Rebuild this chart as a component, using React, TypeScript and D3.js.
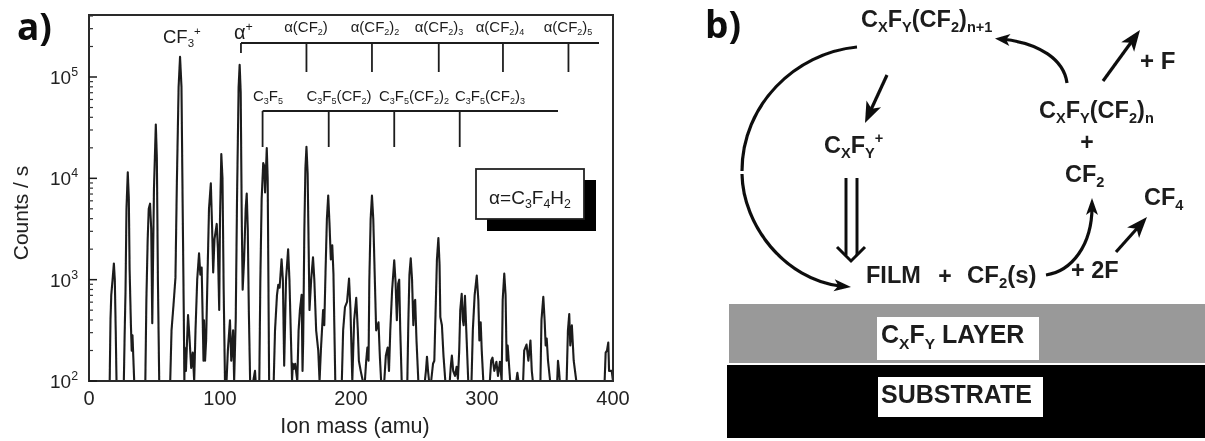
import React from "react";
import * as d3 from "d3";

// mass (amu), log10(counts/s)
const spectrum: [number, number][] = [
  [0,2],[15.8,2],[16.4,2.6],[17,2.85],[18,3],[19,3.16],[19.7,3],[20.4,2.5],[21,2],
  [26.6,2],[27.2,2.45],[27.9,2.9],[28.6,3.7],[29.6,4.06],[30.4,3.8],[31,3.1],[32,2.55],[32.6,2.3],[33.2,2.45],[34.5,2],
  [43,2],[43.8,2.8],[44.8,3.4],[45.6,3.7],[46.6,3.75],[47.5,3.5],[48.3,2.57],[48.8,3.1],[49.6,3.9],[51,4.53],[51.8,4.2],[52.6,3],[53.6,2],
  [62,2],[63,2.5],[64.5,2.75],[66,3.02],[67,3.9],[68.4,4.9],[69.5,5.2],[70.6,4.9],[71.6,3.6],[72.4,2.6],[72.8,2],
  [73,2.33],[74,2.1],[75.6,2.65],[76.6,2.45],[78,2.13],[79.2,2.28],[80.3,2],
  [81.3,2.5],[82.6,3],[84,3.26],[85,3.05],[86,3.12],[86.8,2.6],[87.4,2.2],[87.8,2.6],[88.6,2.2],[89.4,2.4],
  [90.4,3],[91.6,3.7],[93,3.95],[94,3.5],[94.8,3.07],[95.8,3.4],[97.5,3.55],[98.4,3.3],[99.4,2.7],[100,3.6],[101,4.24],[101.9,4],[102.8,2.9],[103.8,2],
  [105,2],[106,2.3],[107.6,2.6],[108.6,2.2],[110,2.5],[110.8,2],
  [112,2.6],[113,3.8],[114.2,4.9],[115,5.12],[115.8,4.85],[116.6,3.6],[117.3,2.9],[118.4,3.2],[119.6,3.7],[120.4,3.85],[121.2,3.5],[122,2.7],[123,2],
  [125.4,2],[126.7,2.1],[127.2,2],
  [130,2],[130.8,3],[131.8,3.8],[133,4.15],[133.8,4.12],[134.4,3.86],[135,4.05],[135.7,4.3],[136.4,4],[137.5,2],
  [141,2],[142,2.5],[143.5,2.85],[144.5,2.95],[145.5,2.92],[147,3.2],[148,3],[149,2.15],[150.4,3],[152,3.3],[153,3],[155,2],
  [155.6,2.17],[156.5,2.12],[157.4,2.17],[159,2],
  [160,2.5],[161,2.7],[162.3,2.85],[163,2.1],[163.5,2.4],[164.4,3.5],[165.2,4.1],[166,4.31],[166.9,4.05],[167.8,3.2],[168.3,2.7],[169.6,3],[171,3.22],[172,3],[173.4,2.5],[175,2.3],[176,2],
  [177,2.3],[178.7,2.7],[179.6,2.55],[180.6,3.1],[181.6,3.6],[182.6,3.83],[183.6,3.55],[184.6,3.2],[185.7,3.34],[186.6,3.06],[187.2,2.6],[188,2],
  [193,2],[194,2.5],[195.4,2.73],[197,2.78],[198.5,3.01],[199.6,2.7],[201,2],[202.4,2.6],[204,2.82],[205.2,2.5],[206,2.2],[207.4,2.1],[209,2],
  [210.6,2],[211.6,2.2],[212.5,2.33],[213.4,2.2],[214,3],[215,3.6],[216,3.83],[217,3.6],[218.2,3],[219.2,2.5],[220.4,2.55],[221,2.58],[222,2.25],[223,2],
  [225.4,2],[226.6,2.25],[228,2.33],[229,2.1],[230,2.5],[231.4,2.9],[233,3.19],[234,2.98],[235,2.6],[236,2.96],[236.8,3],[237.6,2.5],[238.7,2],
  [243,2],[243.8,2.6],[244.6,3.05],[245.6,3.21],[246.6,3],[247.6,2.55],[248.4,2.78],[249,2.8],[250,2.4],[251.4,2],
  [256.4,2],[257.2,2.1],[258,2.24],[258.8,2.1],[259.6,2],[261.2,2],[262.6,2.17],[263.6,2.2],[264.6,2.7],[265.6,3.2],[266.7,3.41],[267.6,3.15],[268.2,2.63],[269.4,2.55],[270.6,2.25],[272,2],
  [275.4,2],[276.2,2.15],[277,2.25],[278,2.1],[279.4,2.05],[280.6,2.14],[281.6,2.02],[282.6,2.3],[283.4,2.7],[284.5,2.86],[285.4,2.6],[286,2.55],[287,2.84],[288,2.5],[289.5,2],
  [292,2],[293,2.5],[294.4,2.85],[296,3.04],[297.2,2.8],[298,2.4],[299,2.58],[299.8,2.3],[301,2],
  [306,2],[307,2.2],[308,2.23],[309.4,2.1],[311,2.19],[312.2,2.05],[313.7,2.19],[315,2],[315.8,2.8],[317,3.06],[318,2.85],[318.8,2.2],[319.6,2.35],[321.5,2],
  [326.2,2],[327,2.08],[327.8,2],[331.4,2],[332.2,2.3],[334,2.36],[335.4,2.2],[337,2.4],[338,2.1],[338.8,2],
  [344.6,2],[345.4,2.6],[346.8,2.83],[347.8,2.6],[348.6,2.35],[349.4,2.42],[350.4,2.2],[352,2],
  [357.4,2],[358,2.2],[358.8,2.1],[359.4,2],[364.6,2],[365.6,2.5],[366.6,2.66],[367.4,2.35],[368.6,2.55],[370,2.2],[372,2],
  [393.6,2],[394.4,2.28],[395.4,2.3],[396.4,2.38],[397,2.1],[398,2.1],[399,2.1],[400,2],
];

const xTicks = [0, 100, 200, 300, 400];
const yDecades = [2, 3, 4, 5];
const minorFactors = [2, 3, 4, 5, 6, 7, 8, 9];

const alphaMasses = [116, 166, 216, 267, 316, 366];
const alphaLabels = ["α(CF_{2})", "α(CF_{2})_{2}", "α(CF_{2})_{3}", "α(CF_{2})_{4}", "α(CF_{2})_{5}"];
const c3f5Masses = [132.5, 183, 233, 283];
const c3f5Labels = ["C_{3}F_{5}", "C_{3}F_{5}(CF_{2})", "C_{3}F_{5}(CF_{2})_{2}", "C_{3}F_{5}(CF_{2})_{3}"];

const SANS = "'Liberation Sans', Arial, sans-serif";
const INK = "#1c1c1c";

function Chem({ f, x, y, size, anchor = "start", bold = false, fill = INK, sub = 0.62, ls = 0 }: any) {
  const parts: { t: string; k: string }[] = [];
  const re = /_\{([^}]*)\}|\^\{([^}]*)\}|([^_^]+)/g;
  let m: RegExpExecArray | null;
  while ((m = re.exec(f))) {
    if (m[1] !== undefined) parts.push({ t: m[1], k: "sub" });
    else if (m[2] !== undefined) parts.push({ t: m[2], k: "sup" });
    else parts.push({ t: m[3], k: "n" });
  }
  let prev = 0;
  return (
    <text x={x} y={y} fontFamily={SANS} fontSize={size} fontWeight={bold ? 700 : 400} textAnchor={anchor} fill={fill} letterSpacing={ls} xmlSpace="preserve">
      {parts.map((p, i) => {
        const off = p.k === "sub" ? size * 0.22 : p.k === "sup" ? -size * 0.42 : 0;
        const dy = off - prev;
        prev = off;
        return (
          <tspan key={i} dy={dy} fontSize={p.k === "n" ? size : size * sub}>
            {p.t}
          </tspan>
        );
      })}
    </text>
  );
}

function head(x: number, y: number, ang: number, len: number, w: number) {
  const c = Math.cos(ang), s = Math.sin(ang);
  const bx = x - len * c, by = y - len * s;
  const nx = bx + 0.25 * len * c, ny = by + 0.25 * len * s;
  return `M${x},${y}L${bx - (w / 2) * s},${by + (w / 2) * c}L${nx},${ny}L${bx + (w / 2) * s},${by - (w / 2) * c}Z`;
}

// schematic arrows of panel b: path, tip and head direction
const flowArrows: { d: string; tip: [number, number]; from: [number, number]; len: number; w: number }[] = [
  { d: "M1067,83C1064,60 1040,43 1002,39", tip: [995, 38.5], from: [1010, 40], len: 15, w: 12 },
  { d: "M1103,81L1135,37", tip: [1140, 30], from: [1103, 81], len: 21, w: 16 },
  { d: "M887,75L869,114", tip: [865, 123], from: [887, 75], len: 21, w: 16 },
  { d: "M1046,275C1072,271 1092,245 1092,207", tip: [1092, 198], from: [1092, 215], len: 17, w: 12 },
  { d: "M1116,252L1141,224", tip: [1147, 217], from: [1116, 252], len: 21, w: 16 },
  { d: "M742,174C743,226 785,279 840,286", tip: [851, 287], from: [832, 285], len: 17, w: 12 },
];

export default function App() {
  const x = d3.scaleLinear().domain([0, 400]).range([89, 613]);
  const y = d3.scaleLog().domain([100, 100000]).range([381, 77]);
  const top = 15;
  const line = d3
    .line<[number, number]>()
    .x((d) => x(d[0]))
    .y((d) => y(Math.pow(10, d[1])));

  const minor: number[] = [];
  [2, 3, 4, 5].forEach((dec) =>
    minorFactors.forEach((f) => {
      const v = f * Math.pow(10, dec);
      if (y(v) > top) minor.push(v);
    })
  );

  const alphaY = 43;
  const c3Y = 111;
  const alphaLabelX = [306, 375, 439, 500, 568];
  const c3LabelX = [268, 339, 414, 490];

  return (
    <svg
      width={1205}
      height={441}
      viewBox="0 0 1205 441"
      style={{ position: "absolute", left: 0, top: 0, display: "block", background: "#fff" }}
    >
      <defs>
        <filter id="soft" x="-2%" y="-2%" width="104%" height="104%">
          <feGaussianBlur stdDeviation="0.5" />
        </filter>
      </defs>
      <g filter="url(#soft)">
        {/* Panel a */}
        <text x={17} y={40} fontFamily="'Open Sans', sans-serif" fontWeight={700} fontSize={37} fill="#111">a)</text>
        <path d={line(spectrum) || ""} fill="none" stroke={INK} strokeWidth={2.1} strokeLinejoin="round" />
        <rect x={89} y={top} width={524} height={366} fill="none" stroke="#2a2a2a" strokeWidth={2} />
        {yDecades.map((d) => (
          <line key={d} x1={89} x2={97} y1={y(Math.pow(10, d))} y2={y(Math.pow(10, d))} stroke={INK} strokeWidth={1.5} />
        ))}
        {minor.map((v, i) => (
          <line key={i} x1={89} x2={93} y1={y(v)} y2={y(v)} stroke="#333" strokeWidth={1.2} />
        ))}
        {yDecades.map((d) => (
          <Chem key={d} f={`10^{${d}}`} x={50} y={y(Math.pow(10, d)) + 7} size={19} sub={0.65} fill="#222" />
        ))}
        {xTicks.map((t) => (
          <text key={t} x={x(t)} y={405} textAnchor="middle" fontFamily={SANS} fontSize={20} fill="#222">{t}</text>
        ))}
        <text x={355} y={433} textAnchor="middle" fontFamily={SANS} fontSize={21.5} fill="#222">Ion mass (amu)</text>
        <text transform="translate(28,213) rotate(-90)" textAnchor="middle" fontFamily={SANS} fontSize={21} fill="#222">Counts / s</text>

        <Chem f="CF_{3}^{+}" x={163} y={43} size={18.5} />
        <Chem f="α^{+}" x={234} y={39} size={20} />

        <line x1={241} x2={599} y1={alphaY} y2={alphaY} stroke={INK} strokeWidth={1.8} />
        <line x1={x(alphaMasses[0])} x2={x(alphaMasses[0])} y1={alphaY} y2={53} stroke={INK} strokeWidth={1.8} />
        {alphaMasses.slice(1).map((m) => (
          <line key={m} x1={x(m)} x2={x(m)} y1={alphaY} y2={72} stroke={INK} strokeWidth={1.8} />
        ))}
        {alphaLabels.map((l, i) => (
          <Chem key={l} f={l} x={alphaLabelX[i]} y={32} size={15} anchor="middle" sub={0.6} />
        ))}

        <line x1={x(c3f5Masses[0])} x2={558} y1={c3Y} y2={c3Y} stroke={INK} strokeWidth={1.8} />
        {c3f5Masses.map((m) => (
          <line key={m} x1={x(m)} x2={x(m)} y1={c3Y} y2={147} stroke={INK} strokeWidth={1.8} />
        ))}
        {c3f5Labels.map((l, i) => (
          <Chem key={l} f={l} x={c3LabelX[i]} y={101} size={15} anchor="middle" sub={0.6} />
        ))}

        <rect x={487} y={180} width={109} height={51} fill="#000" />
        <rect x={476} y={169} width={108} height={50} fill="#fff" stroke="#222" strokeWidth={1.8} />
        <Chem f="α=C_{3}F_{4}H_{2}" x={530} y={204} size={19} anchor="middle" sub={0.65} />

        {/* Panel b */}
        <text x={705} y={38} fontFamily="'Open Sans', sans-serif" fontWeight={700} fontSize={37} fill="#111">b)</text>
        <Chem f="C_{X}F_{Y}(CF_{2})_{n+1}" x={861} y={27} size={23.5} bold sub={0.62} />
        <Chem f="C_{X}F_{Y}^{+}" x={824} y={153} size={23.5} bold sub={0.62} />
        <Chem f="C_{X}F_{Y}(CF_{2})_{n}" x={1039} y={118} size={23.5} bold sub={0.62} />
        <text x={1087} y={150} textAnchor="middle" fontFamily={SANS} fontWeight={700} fontSize={23} fill={INK}>+</text>
        <Chem f="CF_{2}" x={1065} y={182} size={23.5} bold sub={0.62} />
        <text x={1140} y={69} fontFamily={SANS} fontWeight={700} fontSize={24} fill={INK}>+ F</text>
        <Chem f="CF_{4}" x={1144} y={205} size={23.5} bold sub={0.62} />
        <text x={1071} y={278} fontFamily={SANS} fontWeight={700} fontSize={23.5} fill={INK}>+ 2F</text>
        <text x={866} y={283} fontFamily={SANS} fontWeight={700} fontSize={23.5} fill={INK}>FILM</text>
        <text x={945} y={284} textAnchor="middle" fontFamily={SANS} fontWeight={700} fontSize={23} fill={INK}>+</text>
        <Chem f="CF_{2}(s)" x={967} y={283} size={24} bold sub={0.62} />

        {flowArrows.map((a, i) => (
          <g key={i}>
            <path d={a.d} fill="none" stroke="#111" strokeWidth={3.2} />
            <path d={head(a.tip[0], a.tip[1], Math.atan2(a.tip[1] - a.from[1], a.tip[0] - a.from[0]), a.len, a.w)} fill="#111" />
          </g>
        ))}
        <path d="M857,47C795,53 742,105 742,171" fill="none" stroke="#111" strokeWidth={3.2} />
        <path d="M846,178V255M857,178V255" fill="none" stroke="#111" strokeWidth={3} />
        <path d="M837,247L851,261L865,247" fill="none" stroke="#111" strokeWidth={3} />

        <rect x={729} y={304} width={476} height={59} fill="#999" />
        <rect x={727} y={365} width={478} height={73} fill="#000" />
        <rect x={877} y={317} width={162} height={43} fill="#fff" />
        <rect x={878} y={377} width={165} height={40} fill="#fff" />
        <Chem f="C_{X}F_{Y} LAYER" x={881} y={343} size={25} bold sub={0.62} />
        <text x={881} y={403} fontFamily={SANS} fontWeight={700} fontSize={25} fill={INK}>SUBSTRATE</text>
      </g>
    </svg>
  );
}
